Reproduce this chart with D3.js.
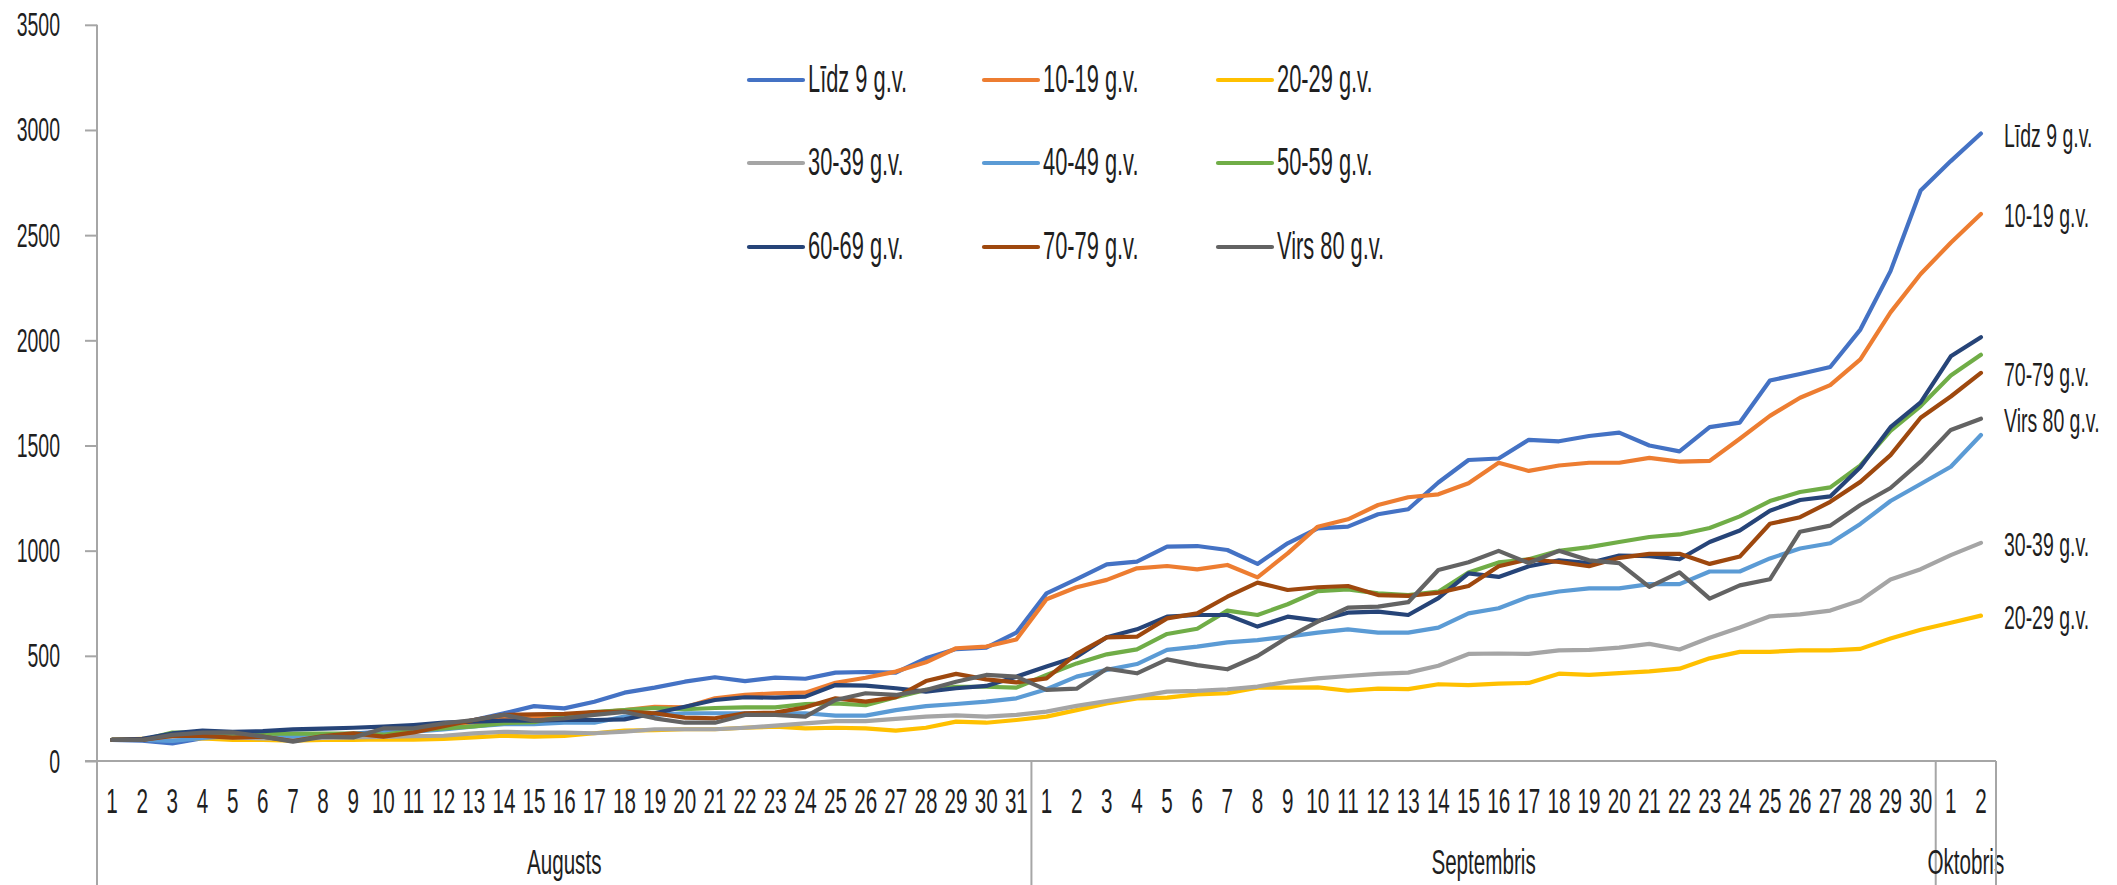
<!DOCTYPE html>
<html>
<head>
<meta charset="utf-8">
<script src="https://cdn.jsdelivr.net/npm/d3@7"></script>
<style>
  html, body { margin: 0; padding: 0; background: #fff; }
  svg { display: block; }
  text { font-family: "Liberation Sans", Arial, sans-serif; fill: #1f1f1f; }
</style>
</head>
<body>
<svg id="chart" width="2117" height="885"></svg>
<script>
// ---------- DATA ----------
const months = ["Augusts", "Septembris", "Oktobris"];
const monthLengths = [31, 30, 2];
const dayLabels = [];
monthLengths.forEach(n => { for (let d = 1; d <= n; d++) dayLabels.push(String(d)); });

const seriesNames = ["Līdz 9 g.v.", "10-19 g.v.", "20-29 g.v.", "30-39 g.v.", "40-49 g.v.", "50-59 g.v.", "60-69 g.v.", "70-79 g.v.", "Virs 80 g.v."];
const seriesColors = ["#4472C4", "#ED7D31", "#FFC000", "#A5A5A5", "#5B9BD5", "#70AD47", "#264478", "#9E480E", "#636363"];
const endLabelSeries = ["Līdz 9 g.v.", "10-19 g.v.", "70-79 g.v.", "Virs 80 g.v.", "30-39 g.v.", "20-29 g.v."];
const yTicks = [0, 500, 1000, 1500, 2000, 2500, 3000, 3500];

const lidz9 = [100, 97, 84, 108, 115, 118, 120, 125, 130, 140, 150, 165, 195, 227, 261, 250, 282, 325, 349, 377, 398, 380, 396, 391, 420, 423, 420, 488, 532, 539, 610,
  797, 865, 935, 948, 1019, 1022, 1003, 937, 1035, 1106, 1114, 1173, 1197, 1324, 1431,
  1438, 1527, 1520, 1545, 1561, 1500, 1472, 1587, 1609, 1809, 1840, 1873, 2051, 2329, 2712,
  2852, 2983];
const g10_19 = [100, 103, 105, 110, 110, 110, 105, 115, 125, 130, 140, 160, 180, 200, 205, 219, 230, 242, 258, 255, 298, 314, 322, 325, 372, 396, 425, 469, 536, 544, 578,
  769, 826, 861, 916, 927, 911, 932, 873, 987, 1114, 1149, 1217, 1254, 1268, 1320,
  1418, 1379, 1405, 1418, 1418, 1441, 1423, 1427, 1532, 1641, 1727, 1787, 1909, 2133, 2315,
  2464, 2601];
const g20_29 = [100, 105, 108, 108, 100, 100, 97, 100, 100, 103, 102, 105, 112, 120, 116, 119, 132, 144, 147, 151, 151, 158, 163, 155, 158, 155, 144, 158, 187, 182, 195,
  211, 242, 274, 298, 301, 317, 322, 349, 349, 350, 334, 344, 342, 365, 361,
  368, 371, 415, 409, 418, 426, 439, 488, 519, 519, 526, 526, 533, 582, 624,
  657, 691];
const g30_39 = [100, 100, 110, 115, 112, 108, 105, 110, 112, 115, 118, 120, 131, 139, 135, 135, 132, 139, 151, 151, 151, 158, 168, 179, 190, 190, 200, 211, 217, 211, 219,
  235, 262, 285, 306, 330, 333, 341, 354, 377, 393, 404, 414, 420, 453, 509,
  511, 509, 526, 528, 539, 557, 530, 586, 635, 688, 697, 715, 763, 863, 912,
  979, 1037];
const g40_49 = [100, 100, 95, 110, 120, 124, 116, 120, 125, 135, 140, 150, 165, 175, 175, 182, 182, 211, 219, 227, 227, 227, 227, 227, 216, 216, 242, 261, 271, 282, 298,
  341, 401, 433, 461, 528, 544, 564, 575, 591, 610, 626, 610, 610, 634, 702,
  726, 781, 806, 821, 821, 841, 841, 901, 901, 963, 1010, 1035, 1127, 1236, 1317,
  1399, 1550];
const g50_59 = [100, 100, 135, 135, 130, 130, 130, 130, 130, 125, 145, 155, 165, 180, 185, 214, 233, 242, 252, 246, 252, 255, 255, 271, 274, 265, 303, 338, 353, 353, 349,
  409, 464, 507, 531, 604, 629, 715, 694, 745, 808, 816, 797, 789, 805, 896,
  944, 959, 999, 1017, 1041, 1065, 1077, 1108, 1163, 1236, 1279, 1301, 1405, 1569, 1687,
  1833, 1931];
const g60_69 = [100, 105, 131, 144, 139, 142, 150, 154, 158, 163, 171, 182, 187, 192, 192, 195, 195, 198, 227, 258, 290, 303, 301, 306, 361, 358, 346, 330, 346, 357, 401,
  449, 496, 588, 626, 686, 694, 694, 639, 686, 667, 705, 710, 694, 774, 892,
  875, 926, 954, 941, 977, 974, 959, 1041, 1096, 1190, 1241, 1258, 1396, 1587, 1705,
  1924, 2015];
const g70_79 = [100, 100, 119, 119, 111, 116, 95, 119, 131, 116, 136, 166, 195, 219, 222, 224, 233, 235, 227, 206, 203, 227, 230, 255, 298, 282, 303, 380, 414, 388, 374,
  393, 509, 588, 591, 678, 702, 781, 848, 813, 826, 832, 789, 785, 800, 832,
  926, 959, 946, 926, 966, 985, 985, 937, 972, 1128, 1159, 1232, 1327, 1454, 1632,
  1733, 1845];
const virs80 = [100, 100, 124, 135, 136, 116, 92, 116, 112, 155, 155, 179, 195, 219, 192, 203, 219, 233, 203, 182, 182, 219, 219, 211, 290, 322, 314, 338, 377, 409, 401,
  338, 344, 439, 417, 483, 456, 436, 499, 588, 663, 729, 734, 755, 908, 945,
  999, 941, 999, 954, 941, 828, 897, 772, 835, 864, 1090, 1119, 1217, 1298, 1423,
  1574, 1627];

const seriesValues = [lidz9, g10_19, g20_29, g30_39, g40_49, g50_59, g60_69, g70_79, virs80];

// ---------- LAYOUT ----------
const SX = 0.59;      // horizontal compression to mimic the condensed font
const SX_LEG = 0.56;
const axisColor = "#a6a6a6";
const plot = { left: 97, right: 1996, top: 24.8, bottom: 761 };

const svg = d3.select("#chart");

const idx = d3.range(dayLabels.length);
const x = d3.scaleBand().domain(idx).range([plot.left, plot.right]).paddingInner(0).paddingOuter(0);
const xc = i => x(i) + x.bandwidth() / 2;
const y = d3.scaleLinear().domain([0, 3500]).range([plot.bottom, plot.top]);

// helper for condensed text
function ctext(parent, str, px, py, size, anchor, sx) {
  return parent.append("text")
    .attr("transform", `translate(${px},${py}) scale(${sx || SX},1)`)
    .attr("text-anchor", anchor || "start")
    .style("font-size", size + "px")
    .text(str);
}

// ---------- Y AXIS ----------
const yAxisG = svg.append("g").attr("transform", `translate(${plot.left},0)`)
  .call(d3.axisLeft(y).tickValues(yTicks).tickSize(12).tickFormat(d3.format("d")));
yAxisG.select(".domain").remove();
yAxisG.selectAll(".tick line").attr("stroke", axisColor).attr("stroke-width", 2);
yAxisG.selectAll(".tick text")
  .attr("x", -37 / SX).attr("dy", null).attr("y", 11)
  .attr("transform", `scale(${SX},1)`)
  .attr("text-anchor", "end")
  .style("font-size", "33px")
  .style("font-family", '"Liberation Sans", Arial, sans-serif')
  .attr("fill", "#1f1f1f");
svg.append("line")
  .attr("x1", plot.left).attr("x2", plot.left)
  .attr("y1", y(3500)).attr("y2", 885)
  .attr("stroke", axisColor).attr("stroke-width", 2);

// ---------- X AXIS ----------
const xAxisG = svg.append("g").attr("transform", `translate(0,${plot.bottom})`)
  .call(d3.axisBottom(x).tickSize(0).tickFormat(i => dayLabels[i]));
xAxisG.select(".domain").remove();
xAxisG.selectAll(".tick text")
  .attr("y", 52).attr("dy", null)
  .attr("transform", `scale(${SX},1)`)
  .style("font-size", "35px")
  .style("font-family", '"Liberation Sans", Arial, sans-serif')
  .attr("fill", "#1f1f1f");

svg.append("line")
  .attr("x1", plot.left - 12).attr("x2", plot.right)
  .attr("y1", plot.bottom).attr("y2", plot.bottom)
  .attr("stroke", axisColor).attr("stroke-width", 2);

// month groups
let start = 0;
months.forEach((m, k) => {
  const end = start + monthLengths[k] - 1;
  const x0 = x(start), x1 = x(end) + x.bandwidth();
  ctext(svg, m, (x0 + x1) / 2, 874, 35, "middle");
  svg.append("line")
    .attr("x1", x1).attr("x2", x1)
    .attr("y1", plot.bottom).attr("y2", 885)
    .attr("stroke", axisColor).attr("stroke-width", 2);
  start = end + 1;
});

// ---------- LINES ----------
const line = d3.line().x((d, i) => xc(i)).y(d => y(d));
const linesG = svg.append("g");
seriesValues.forEach((vals, s) => {
  linesG.append("path")
    .datum(vals)
    .attr("d", line)
    .attr("fill", "none")
    .attr("stroke", seriesColors[s])
    .attr("stroke-width", 4.2)
    .attr("stroke-linejoin", "round")
    .attr("stroke-linecap", "round");
});

// end labels
endLabelSeries.forEach(name => {
  const s = seriesNames.indexOf(name);
  const vals = seriesValues[s];
  ctext(svg, name, plot.right + 8, y(vals[vals.length - 1]) + 13, 33, "start");
});

// ---------- LEGEND ----------
const legCols = [749, 984, 1218];
const legRows = [80, 163, 247];
seriesNames.forEach((name, s) => {
  const cx = legCols[s % 3], cy = legRows[Math.floor(s / 3)];
  svg.append("line")
    .attr("x1", cx).attr("x2", cx + 54)
    .attr("y1", cy).attr("y2", cy)
    .attr("stroke", seriesColors[s]).attr("stroke-width", 4.2)
    .attr("stroke-linecap", "round");
  ctext(svg, name, cx + 59, cy + 11.7, 39, "start", SX_LEG);
});
</script>
</body>
</html>
